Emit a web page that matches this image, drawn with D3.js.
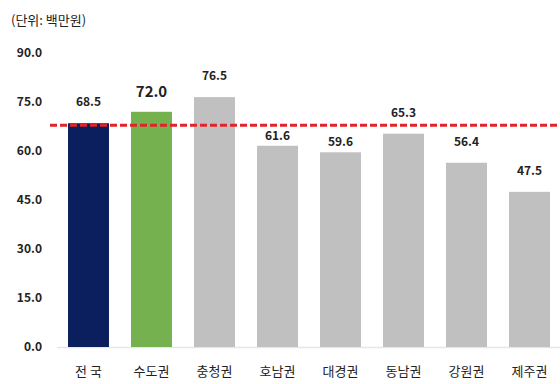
<!DOCTYPE html>
<html><head><meta charset="utf-8">
<script src="https://cdn.jsdelivr.net/npm/d3@7"></script>
<style>body{margin:0;background:#fff}svg{display:block}text{font-family:"Noto Sans CJK KR","Noto Sans",sans-serif}</style>
</head><body><svg id="c" width="560" height="384"></svg>
<script>
const categories = ["전 국","수도권","충청권","호남권","대경권","동남권","강원권","제주권"];
const values = [68.5,72.0,76.5,61.6,59.6,65.3,56.4,47.5];
const colors = ["#0b1f5e","#76b14f","#c0c0c0","#c0c0c0","#c0c0c0","#c0c0c0","#c0c0c0","#c0c0c0"];
const yTicks = [0,15,30,45,60,75,90];
const refValue = 68.5;
const unitLabel = "(단위: 백만원)";

const svg = d3.select("#c");
const x = d3.scaleBand().domain(categories).range([57,561]).paddingInner(0.35).paddingOuter(0.175);
const y = d3.scaleLinear().domain([0,90]).range([347,53]);
const refY = y(refValue) + 2;

svg.append("text").attr("x",11).attr("y",25).attr("font-size",13).attr("fill","#222").text(unitLabel);

// baseline
svg.append("line").attr("x1",57).attr("x2",560).attr("y1",y(0)+0.5).attr("y2",y(0)+0.5).attr("stroke","#e6e6e6").attr("stroke-width",1.5);

// y axis labels
const yAxis = d3.axisLeft(y).tickValues(yTicks).tickFormat(d3.format(".1f")).tickSize(0).tickPadding(0);
const ga = svg.append("g").attr("transform","translate(42,0)").call(yAxis);
ga.select(".domain").remove();
ga.selectAll("text").attr("font-size",12).attr("font-weight","bold").attr("fill","#222").attr("font-family","\"Noto Sans CJK KR\",sans-serif");

// bars
svg.selectAll("rect.bar").data(values).enter().append("rect")
  .attr("x",(d,i)=>x(categories[i])).attr("width",x.bandwidth())
  .attr("y",d=>y(d)).attr("height",d=>y(0)-y(d)).attr("fill",(d,i)=>colors[i]);

// value labels: pulled closer to the bar when they would hit the reference line
function labelY(d,i){
  const off = i===1 ? 15 : 17;
  const base = y(d) - off;           // baseline
  const top = base - 10, bottom = base + 2;
  if (i>1 && top < refY + 3 && bottom > refY - 3) return y(d) - 6;
  return base;
}
svg.selectAll("text.val").data(values).enter().append("text")
  .attr("x",(d,i)=>x(categories[i])+x.bandwidth()/2)
  .attr("y",labelY)
  .attr("text-anchor","middle").attr("font-weight","bold")
  .attr("font-size",(d,i)=>i===1?15:12).attr("fill","#222")
  .text(d=>d.toFixed(1));

// reference line
svg.append("line").attr("x1",50).attr("x2",560).attr("y1",refY).attr("y2",refY)
  .attr("stroke","#e0242a").attr("stroke-width",3).attr("stroke-dasharray","7,3");

// x labels
const xAxis = d3.axisBottom(x).tickSize(0).tickPadding(0);
const gx = svg.append("g").attr("transform","translate(0,367)").call(xAxis);
gx.select(".domain").remove();
gx.selectAll("text").attr("font-size",13).attr("fill","#222").attr("font-family","\"Noto Sans CJK KR\",sans-serif");
</script></body></html>
